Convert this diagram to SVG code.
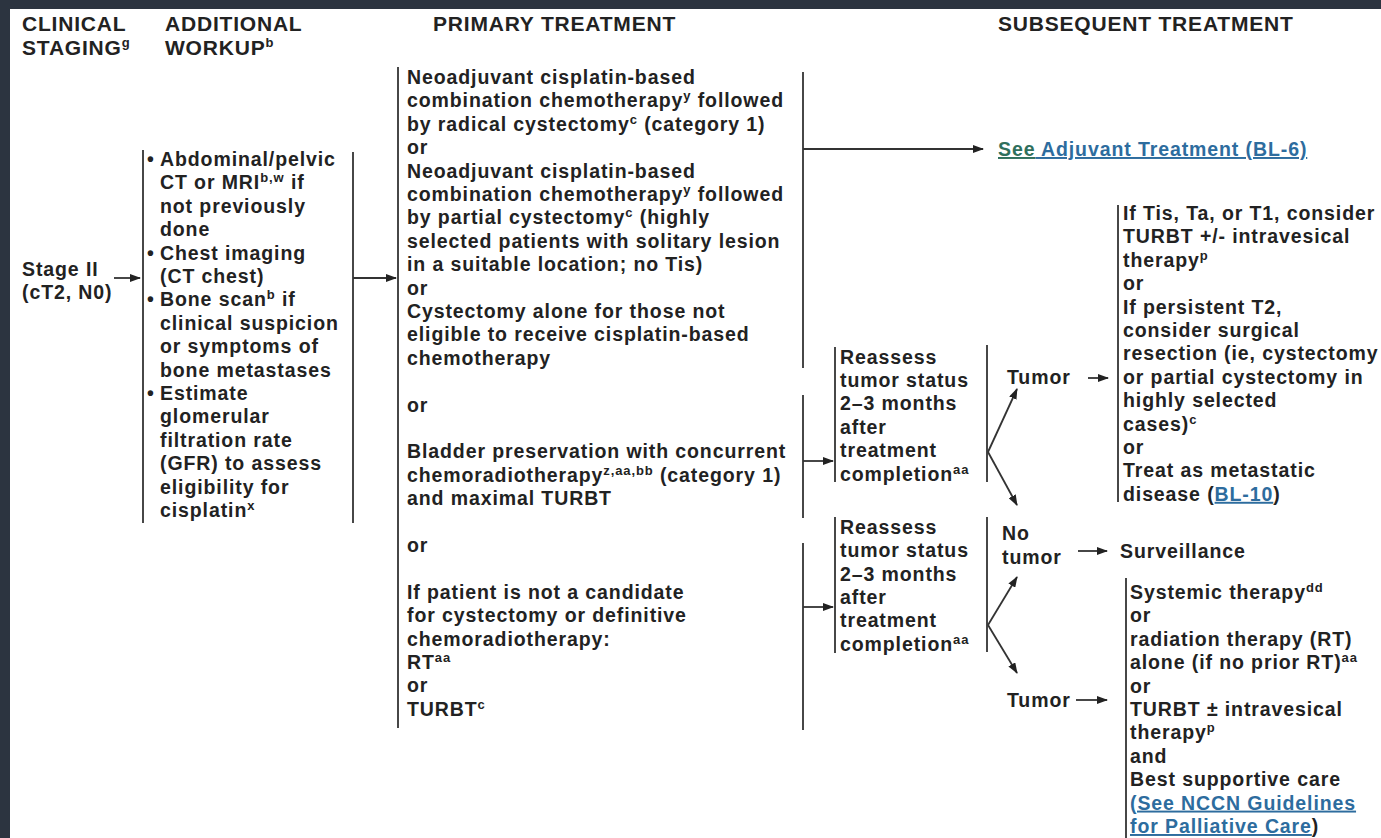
<svg xmlns="http://www.w3.org/2000/svg" width="1381" height="838" viewBox="0 0 1381 838">
<defs>
<style>
.t{font-family:"Liberation Sans",Arial,sans-serif;font-weight:bold;font-size:19.5px;fill:#222;letter-spacing:0.9px}
.h{font-family:"Liberation Sans",Arial,sans-serif;font-weight:bold;font-size:21px;fill:#222;letter-spacing:0.8px}
.ln{stroke:#333;stroke-width:1.8;fill:none}
.ar{stroke:#333;stroke-width:1.8;fill:none;marker-end:url(#ah)}
.lk{fill:#2d6c9e;text-decoration:underline}
.lg{fill:#2f6f5c;text-decoration:underline}
</style>
<marker id="ah" markerUnits="userSpaceOnUse" markerWidth="11" markerHeight="8" refX="10" refY="4" orient="auto">
<path d="M0,0 L11,4 L0,8 z" fill="#222"/>
</marker>
</defs>
<rect x="0" y="0" width="1381" height="838" fill="#2c3440"/>
<rect x="10" y="9" width="1371" height="829" fill="#ffffff"/>

<g id="headers">
<text class="h" x="22" y="31">CLINICAL</text>
<text class="h" x="22" y="55">STAGING<tspan font-size="13" dy="-8">g</tspan></text>
<text class="h" x="165" y="31">ADDITIONAL</text>
<text class="h" x="165" y="55">WORKUP<tspan font-size="13" dy="-8">b</tspan></text>
<text class="h" x="433" y="31">PRIMARY TREATMENT</text>
<text class="h" x="998" y="31">SUBSEQUENT TREATMENT</text>
</g>

<g id="staging">
<text class="t" x="22" y="276">Stage II</text>
<text class="t" x="22" y="299">(cT2, N0)</text>
</g>

<g id="workup">
<line class="ln" x1="143" y1="150" x2="143" y2="523"/>
<line class="ln" x1="353" y1="152" x2="353" y2="523"/>
<text class="t" x="147" y="166">•</text>
<text class="t" x="160" y="166">Abdominal/pelvic</text>
<text class="t" x="160" y="189.4">CT or MRI<tspan font-size="13" dy="-7">b,w</tspan><tspan dy="7"> if</tspan></text>
<text class="t" x="160" y="212.8">not previously</text>
<text class="t" x="160" y="236.2">done</text>
<text class="t" x="147" y="259.6">•</text>
<text class="t" x="160" y="259.6">Chest imaging</text>
<text class="t" x="160" y="283">(CT chest)</text>
<text class="t" x="147" y="306.4">•</text>
<text class="t" x="160" y="306.4">Bone scan<tspan font-size="13" dy="-7">b</tspan><tspan dy="7"> if</tspan></text>
<text class="t" x="160" y="329.8">clinical suspicion</text>
<text class="t" x="160" y="353.2">or symptoms of</text>
<text class="t" x="160" y="376.6">bone metastases</text>
<text class="t" x="147" y="400">•</text>
<text class="t" x="160" y="400">Estimate</text>
<text class="t" x="160" y="423.4">glomerular</text>
<text class="t" x="160" y="446.8">filtration rate</text>
<text class="t" x="160" y="470.2">(GFR) to assess</text>
<text class="t" x="160" y="493.6">eligibility for</text>
<text class="t" x="160" y="517">cisplatin<tspan font-size="13" dy="-7">x</tspan></text>
</g>

<g id="primary">
<line class="ln" x1="398" y1="67" x2="398" y2="728"/>
<text class="t" x="407" y="84">Neoadjuvant cisplatin-based</text>
<text class="t" x="407" y="107.4">combination chemotherapy<tspan font-size="13" dy="-7">y</tspan><tspan dy="7"> followed</tspan></text>
<text class="t" x="407" y="130.8">by radical cystectomy<tspan font-size="13" dy="-7">c</tspan><tspan dy="7"> (category 1)</tspan></text>
<text class="t" x="407" y="154.2">or</text>
<text class="t" x="407" y="177.6">Neoadjuvant cisplatin-based</text>
<text class="t" x="407" y="201">combination chemotherapy<tspan font-size="13" dy="-7">y</tspan><tspan dy="7"> followed</tspan></text>
<text class="t" x="407" y="224.4">by partial cystectomy<tspan font-size="13" dy="-7">c</tspan><tspan dy="7"> (highly</tspan></text>
<text class="t" x="407" y="247.8">selected patients with solitary lesion</text>
<text class="t" x="407" y="271.2">in a suitable location; no Tis)</text>
<text class="t" x="407" y="294.6">or</text>
<text class="t" x="407" y="318">Cystectomy alone for those not</text>
<text class="t" x="407" y="341.4">eligible to receive cisplatin-based</text>
<text class="t" x="407" y="364.8">chemotherapy</text>
<text class="t" x="407" y="411.6">or</text>
<text class="t" x="407" y="458.4">Bladder preservation with concurrent</text>
<text class="t" x="407" y="481.8">chemoradiotherapy<tspan font-size="13" dy="-7">z,aa,bb</tspan><tspan dy="7"> (category 1)</tspan></text>
<text class="t" x="407" y="505.2">and maximal TURBT</text>
<text class="t" x="407" y="552">or</text>
<text class="t" x="407" y="598.8">If patient is not a candidate</text>
<text class="t" x="407" y="622.2">for cystectomy or definitive</text>
<text class="t" x="407" y="645.6">chemoradiotherapy:</text>
<text class="t" x="407" y="669">RT<tspan font-size="13" dy="-7">aa</tspan></text>
<text class="t" x="407" y="692.4">or</text>
<text class="t" x="407" y="715.8">TURBT<tspan font-size="13" dy="-7">c</tspan></text>
</g>

<g id="see-adjuvant">
<text class="t" x="998" y="156"><tspan class="lg">See</tspan><tspan class="lk"> Adjuvant Treatment (BL-6)</tspan></text>
</g>

<g id="reassess-1">
<line class="ln" x1="835" y1="347" x2="835" y2="482"/>
<line class="ln" x1="987" y1="345" x2="987" y2="482"/>
<text class="t" x="840" y="363.5">Reassess</text>
<text class="t" x="840" y="386.9">tumor status</text>
<text class="t" x="840" y="410.3">2–3 months</text>
<text class="t" x="840" y="433.7">after</text>
<text class="t" x="840" y="457.1">treatment</text>
<text class="t" x="840" y="480.5">completion<tspan font-size="13" dy="-7">aa</tspan></text>
</g>

<g id="reassess-2">
<line class="ln" x1="835" y1="517" x2="835" y2="653"/>
<line class="ln" x1="987" y1="517" x2="987" y2="652"/>
<text class="t" x="840" y="533.7">Reassess</text>
<text class="t" x="840" y="557.1">tumor status</text>
<text class="t" x="840" y="580.5">2–3 months</text>
<text class="t" x="840" y="603.9">after</text>
<text class="t" x="840" y="627.3">treatment</text>
<text class="t" x="840" y="650.7">completion<tspan font-size="13" dy="-7">aa</tspan></text>
</g>

<g id="tumor-1">
<text class="t" x="1007" y="384">Tumor</text>
</g>
<g id="no-tumor">
<text class="t" x="1002" y="540">No</text>
<text class="t" x="1002" y="564">tumor</text>
</g>
<g id="tumor-2">
<text class="t" x="1007" y="707">Tumor</text>
</g>

<g id="persistent-options">
<line class="ln" x1="1118" y1="205" x2="1118" y2="502"/>
<text class="t" x="1123" y="220">If Tis, Ta, or T1, consider</text>
<text class="t" x="1123" y="243.4">TURBT +/- intravesical</text>
<text class="t" x="1123" y="266.8">therapy<tspan font-size="13" dy="-7">p</tspan></text>
<text class="t" x="1123" y="290.2">or</text>
<text class="t" x="1123" y="313.6">If persistent T2,</text>
<text class="t" x="1123" y="337">consider surgical</text>
<text class="t" x="1123" y="360.4">resection (ie, cystectomy</text>
<text class="t" x="1123" y="383.8">or partial cystectomy in</text>
<text class="t" x="1123" y="407.2">highly selected</text>
<text class="t" x="1123" y="430.6">cases)<tspan font-size="13" dy="-7">c</tspan></text>
<text class="t" x="1123" y="454">or</text>
<text class="t" x="1123" y="477.4">Treat as metastatic</text>
<text class="t" x="1123" y="500.8">disease (<tspan class="lk" fill="#4a86c0">BL-10</tspan>)</text>
</g>

<g id="surveillance">
<text class="t" x="1120" y="558">Surveillance</text>
</g>

<g id="recurrence-options">
<line class="ln" x1="1126" y1="578" x2="1126" y2="838"/>
<text class="t" x="1130" y="599">Systemic therapy<tspan font-size="13" dy="-7">dd</tspan></text>
<text class="t" x="1130" y="622.4">or</text>
<text class="t" x="1130" y="645.8">radiation therapy (RT)</text>
<text class="t" x="1130" y="669.2">alone (if no prior RT)<tspan font-size="13" dy="-7">aa</tspan></text>
<text class="t" x="1130" y="692.6">or</text>
<text class="t" x="1130" y="716">TURBT ± intravesical</text>
<text class="t" x="1130" y="739.4">therapy<tspan font-size="13" dy="-7">p</tspan></text>
<text class="t" x="1130" y="762.8">and</text>
<text class="t" x="1130" y="786.2">Best supportive care</text>
<text class="t" x="1130" y="809.6"><tspan class="lk">(See NCCN Guidelines</tspan></text>
<text class="t" x="1130" y="833"><tspan class="lk">for Palliative Care</tspan>)</text>
</g>

<g id="connectors">
<line class="ar" x1="114" y1="278" x2="140" y2="278"/>
<line class="ar" x1="353" y1="278" x2="396" y2="278"/>
<line class="ln" x1="803" y1="72" x2="803" y2="368"/>
<line class="ln" x1="803" y1="395" x2="803" y2="518"/>
<line class="ln" x1="803" y1="543" x2="803" y2="730"/>
<line class="ar" x1="803" y1="149" x2="983" y2="149"/>
<line class="ar" x1="803" y1="461" x2="833" y2="461"/>
<line class="ar" x1="803" y1="607" x2="833" y2="607"/>
<line class="ar" x1="988" y1="452" x2="1017" y2="389"/>
<line class="ar" x1="988" y1="452" x2="1017" y2="505"/>
<line class="ar" x1="988" y1="625" x2="1017" y2="577"/>
<line class="ar" x1="988" y1="625" x2="1017" y2="673"/>
<line class="ar" x1="1088" y1="378" x2="1108" y2="378"/>
<line class="ar" x1="1078" y1="551" x2="1107" y2="551"/>
<line class="ar" x1="1076" y1="700" x2="1107" y2="700"/>
</g>
</svg>
